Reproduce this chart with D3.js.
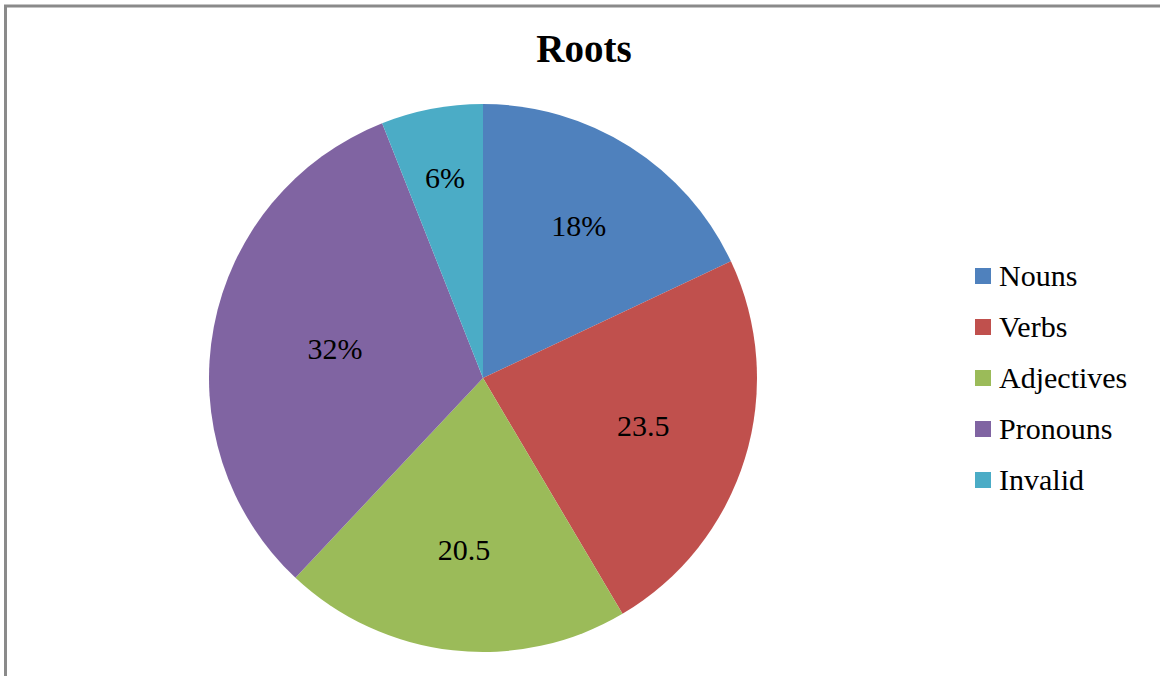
<!DOCTYPE html>
<html>
<head>
<meta charset="utf-8">
<script src="https://cdn.jsdelivr.net/npm/d3@7"></script>
<style>
  html, body { margin: 0; padding: 0; background: #fff; }
  svg { display: block; }
</style>
</head>
<body>
<svg id="chart" width="1160" height="676"></svg>
<script>
const categories = ["Nouns", "Verbs", "Adjectives", "Pronouns", "Invalid"];
const values = [18, 23.5, 20.5, 32, 6];
const labels = ["18%", "23.5", "20.5", "32%", "6%"];
const colors = ["#4F81BD", "#C0504D", "#9BBB59", "#8064A2", "#4BACC6"];
const title = "Roots";

const FONT = "'Liberation Serif', 'Times New Roman', Times, serif";
const svg = d3.select("#chart");

// chart frame
svg.append("rect")
  .attr("x", 5.5).attr("y", 6)
  .attr("width", 1300).attr("height", 800)
  .attr("fill", "#fff")
  .attr("stroke", "#8a8a8a")
  .attr("stroke-width", 3);

// title
svg.append("text")
  .attr("x", 584).attr("y", 62)
  .attr("text-anchor", "middle")
  .style("font-family", FONT)
  .attr("font-size", 39)
  .attr("font-weight", "bold")
  .attr("fill", "#000")
  .text(title);

const cx = 483, cy = 378, r = 274;
const color = d3.scaleOrdinal().domain(categories).range(colors);

const pie = d3.pie().sort(null).value(d => d.value);
const data = categories.map((c, i) => ({ cat: c, value: values[i], label: labels[i] }));
const arcs = pie(data);

const arc = d3.arc().innerRadius(0).outerRadius(r);
// best-fit style: larger slices put their label nearer the centre
const labelFrac = d3.scaleLinear().domain([6, 32]).range([0.74, 0.55]);

const g = svg.append("g").attr("transform", `translate(${cx},${cy})`);

g.selectAll("path.slice")
  .data(arcs)
  .enter().append("path")
  .attr("class", "slice")
  .attr("d", arc)
  .attr("fill", d => color(d.data.cat))
  .attr("stroke", "none");

g.selectAll("text.lbl")
  .data(arcs)
  .enter().append("text")
  .attr("class", "lbl")
  .attr("transform", d => {
    const rr = r * labelFrac(d.data.value);
    return `translate(${d3.arc().innerRadius(rr).outerRadius(rr).centroid(d)})`;
  })
  .attr("text-anchor", "middle")
  .attr("dy", "0.3em")
  .style("font-family", FONT)
  .attr("font-size", 30)
  .attr("fill", "#000")
  .text(d => d.data.label);

// legend
const legendY = d3.scalePoint().domain(categories).range([276, 480]);
const lg = svg.append("g");
const items = lg.selectAll("g.item")
  .data(categories)
  .enter().append("g")
  .attr("class", "item")
  .attr("transform", d => `translate(975,${legendY(d)})`);

items.append("rect")
  .attr("x", 0).attr("y", -8)
  .attr("width", 16).attr("height", 16)
  .attr("fill", d => color(d));

items.append("text")
  .attr("x", 24).attr("y", 0)
  .attr("dy", "0.33em")
  .style("font-family", FONT)
  .attr("font-size", 30)
  .attr("fill", "#000")
  .text(d => d);
</script>
</body>
</html>
